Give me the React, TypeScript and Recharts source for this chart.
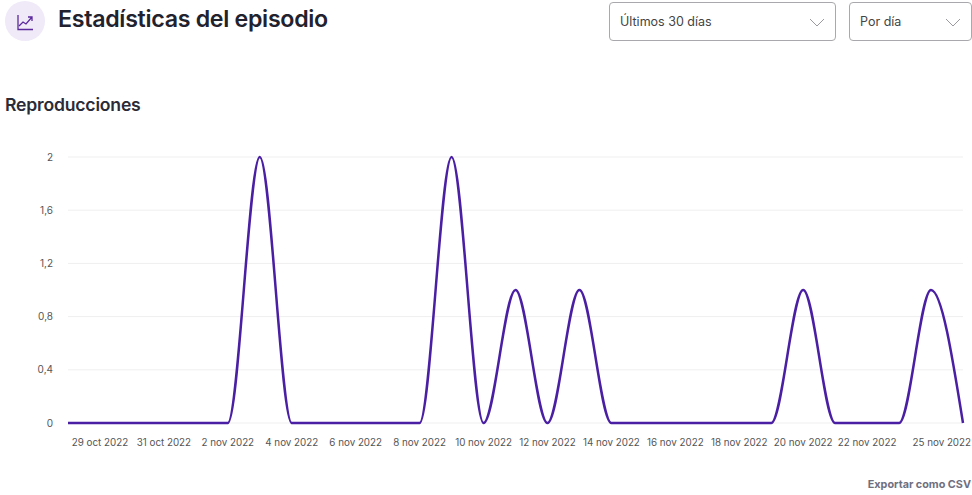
import React from "react";
import { LineChart, Line, XAxis, YAxis, CartesianGrid } from "recharts";

const days = [
  "28 oct 2022","29 oct 2022","30 oct 2022","31 oct 2022","1 nov 2022","2 nov 2022","3 nov 2022",
  "4 nov 2022","5 nov 2022","6 nov 2022","7 nov 2022","8 nov 2022","9 nov 2022","10 nov 2022",
  "11 nov 2022","12 nov 2022","13 nov 2022","14 nov 2022","15 nov 2022","16 nov 2022","17 nov 2022",
  "18 nov 2022","19 nov 2022","20 nov 2022","21 nov 2022","22 nov 2022","23 nov 2022","24 nov 2022","25 nov 2022",
];
const plays = [0,0,0,0,0,0,2,0,0,0,0,0,2,0,1,0,1,0,0,0,0,0,0,1,0,0,0,1,0];
const xTicks = [
  "29 oct 2022","31 oct 2022","2 nov 2022","4 nov 2022","6 nov 2022","8 nov 2022","10 nov 2022",
  "12 nov 2022","14 nov 2022","16 nov 2022","18 nov 2022","20 nov 2022","22 nov 2022","25 nov 2022",
];
const yTicks = [0, 0.4, 0.8, 1.2, 1.6, 2];
const data = days.map((day, i) => ({ day, plays: plays[i] }));

const FONT = "Inter, 'Noto Sans', sans-serif";

const XTick = (props: any) => {
  const { x, y, payload } = props;
  const last = payload.value === xTicks[xTicks.length - 1];
  return (
    <text x={last ? x + 8 : x} y={y} dy={7} textAnchor={last ? "end" : "middle"} fontSize={9.8} fill="#555" fontFamily={FONT}>
      {payload.value}
    </text>
  );
};

const Select = ({ left, width, label }: { left: number; width: number; label: string }) => (
  <div style={{ position: "absolute", left, top: 2, width, height: 39, boxSizing: "border-box", border: "1px solid #a9a9ad", borderRadius: 4, background: "#fff" }}>
    <span style={{ position: "absolute", left: 10, top: 11, fontSize: 12.5, color: "#444", fontFamily: FONT, whiteSpace: "nowrap" }}>{label}</span>
    <svg style={{ position: "absolute", right: 10, top: 15 }} width={16} height={10} viewBox="0 0 16 10">
      <path d="M1 1 L8 8 L15 1" fill="none" stroke="#9a9aa0" strokeWidth={1} />
    </svg>
  </div>
);

export default function App() {
  return (
    <div style={{ position: "absolute", left: 0, top: 0, width: 972, height: 495, background: "#fff", overflow: "hidden" }}>
      <div style={{ position: "absolute", left: 5, top: 1, width: 40, height: 40, borderRadius: 20, background: "#efe9f8" }} />
      <svg style={{ position: "absolute", left: 17, top: 14 }} width={17} height={17} viewBox="0 0 17 17">
        <path d="M1 1 V15.5 H16" fill="none" stroke="#5b2a9d" strokeWidth={1.3} />
        <path d="M2 12 L6 8 L9 10 L15 3 M11 3 H15 V7" fill="none" stroke="#5b2a9d" strokeWidth={1.3} />
      </svg>
      <div style={{ position: "absolute", left: 58, top: 5, fontSize: 23.2, fontWeight: 600, color: "#22222e", fontFamily: FONT, whiteSpace: "nowrap", letterSpacing: -0.3 }}>
        Estadísticas del episodio
      </div>
      <Select left={609} width={227} label="Últimos 30 días" />
      <Select left={849} width={123} label="Por día" />
      <div style={{ position: "absolute", left: 5, top: 94, fontSize: 17.6, fontWeight: 600, color: "#2b2b38", fontFamily: FONT, whiteSpace: "nowrap", letterSpacing: -0.2 }}>
        Reproducciones
      </div>
      <LineChart width={972} height={495} data={data} margin={{ top: 157, right: 9, bottom: 42, left: 28 }} style={{ position: "absolute", left: 0, top: 0 }}>
        <CartesianGrid horizontal vertical={false} stroke="#efefef" strokeWidth={1} />
        <XAxis dataKey="day" ticks={xTicks} interval={0} axisLine={false} tickLine={false} height={30} tick={<XTick />} tickMargin={10} />
        <YAxis width={40} domain={[0, 2]} ticks={yTicks} axisLine={false} tickLine={false} tickMargin={9}
          tickFormatter={(v: number) => String(v).replace(".", ",")}
          tick={{ fontSize: 10, fill: "#555", fontFamily: FONT }} />
        <Line type="monotone" dataKey="plays" stroke="#4a1fa3" strokeWidth={2.5} dot={false} isAnimationActive={false} />
      </LineChart>
      <div style={{ position: "absolute", right: 1, top: 478, fontSize: 10.8, fontWeight: 700, color: "#6f6f80", fontFamily: FONT, whiteSpace: "nowrap" }}>
        Exportar como CSV
      </div>
    </div>
  );
}
